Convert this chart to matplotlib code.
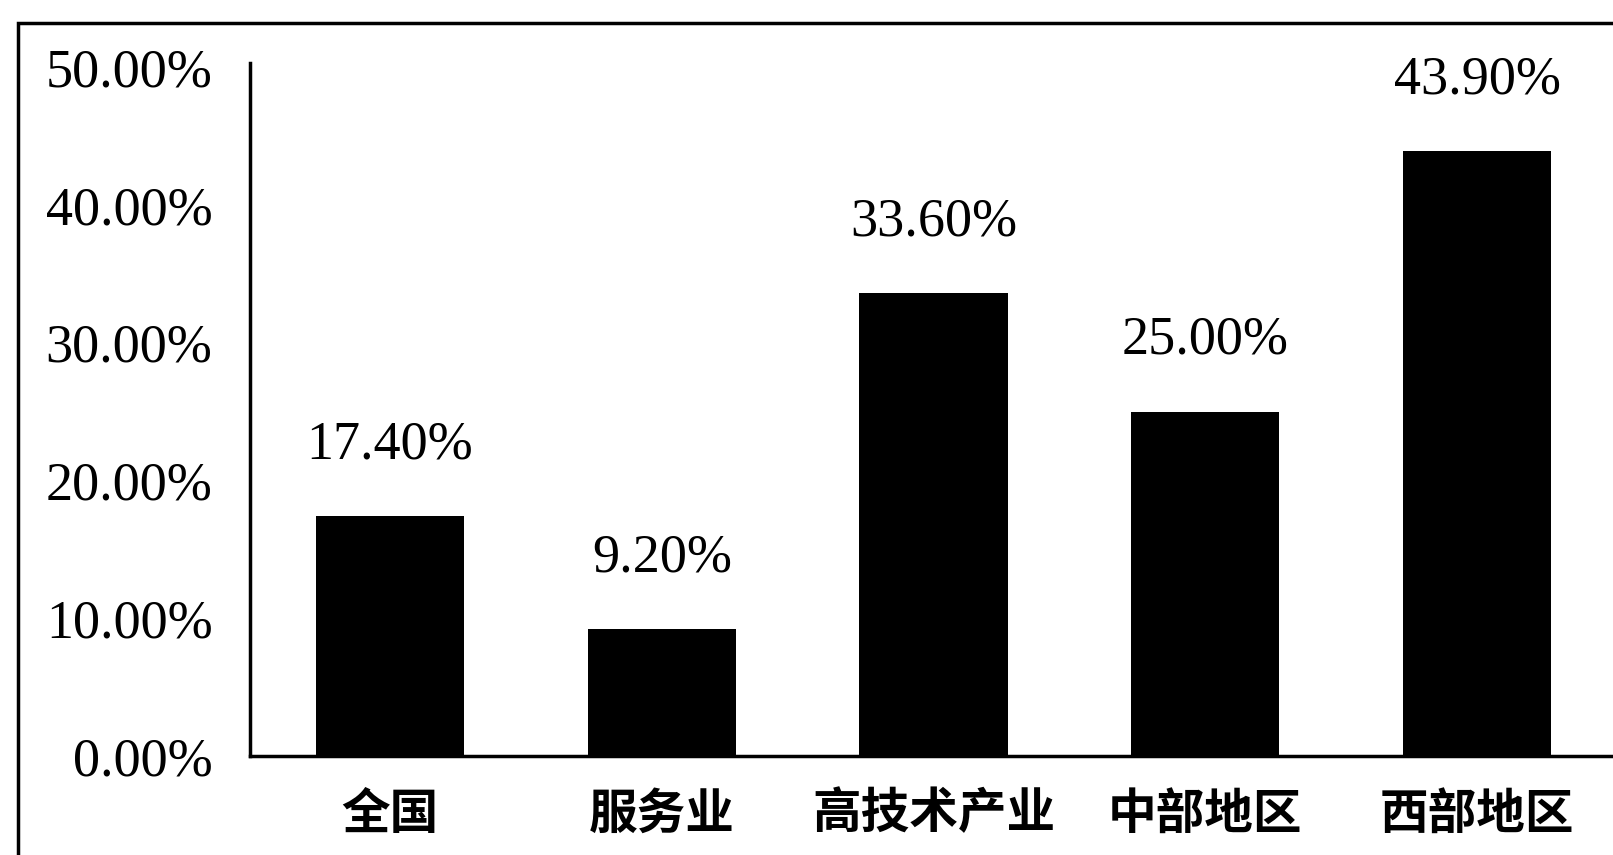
import matplotlib.pyplot as plt
from matplotlib.patches import Rectangle

# values (percent)
categories = ["全国", "服务业", "高技术产业", "中部地区", "西部地区"]
values = [17.4, 9.2, 33.6, 25.0, 43.9]
yticks = [0, 10, 20, 30, 40, 50]

fig = plt.figure(figsize=(16.13, 8.55), dpi=100)
ax = fig.add_axes([0.155, 0.1155, 0.845, 0.8111])

xs = range(len(categories))
bars = ax.bar(xs, values, width=0.545, color="black")

ax.set_xlim(-0.515, 4.5)
ax.set_ylim(0, 50.3)
ax.set_yticks(yticks)
ax.set_yticklabels(["%.2f%%" % v for v in yticks],
                   fontfamily="Liberation Serif", fontsize=39)
ax.set_xticks(list(xs))
ax.set_xticklabels(categories, fontfamily=["Noto Sans CJK SC", "DejaVu Sans"],
                   fontsize=35, fontweight="bold")
ax.tick_params(axis="both", length=0)
ax.tick_params(axis="y", pad=27)
ax.tick_params(axis="x", pad=24)

for s in ["top", "right"]:
    ax.spines[s].set_visible(False)
for s in ["left", "bottom"]:
    ax.spines[s].set_linewidth(2.5)

for b, v in zip(bars, values):
    ax.annotate("%.2f%%" % v, (b.get_x() + b.get_width() / 2, v),
                xytext=(0, 33), textcoords="offset points",
                ha="center", va="bottom",
                fontfamily="Liberation Serif", fontsize=39)

# outer frame of the scanned figure
fig.patches.append(Rectangle((18 / 1613, -0.05), 1.2, 1 - 23 / 855 + 0.05,
                             transform=fig.transFigure, fill=False,
                             edgecolor="black", linewidth=2.5))

fig.savefig("out.png", dpi=100)
